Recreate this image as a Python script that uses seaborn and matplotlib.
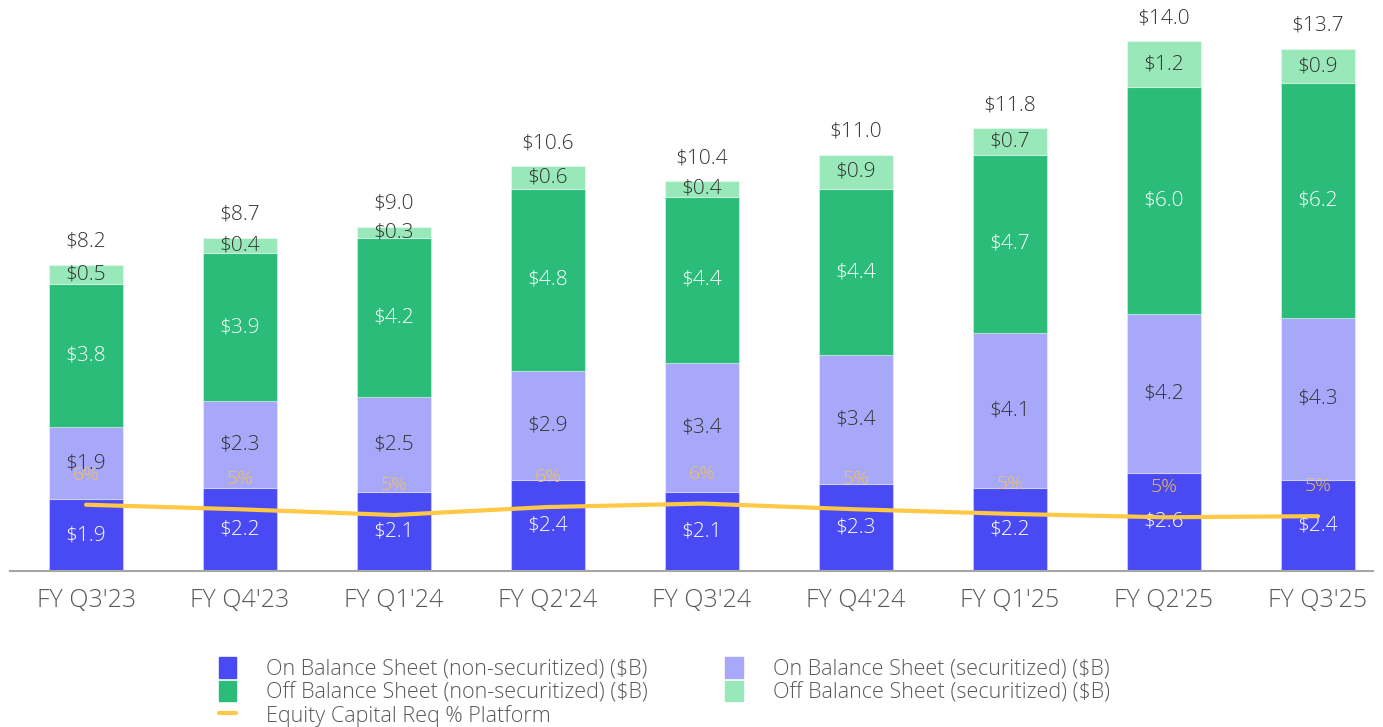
import matplotlib
matplotlib.use("Agg")
import matplotlib.pyplot as plt
import seaborn as sns
import pandas as pd
from matplotlib.patches import Patch
from matplotlib.lines import Line2D

# Values ($B) and equity capital requirement (%)
quarters = ["FY Q3'23", "FY Q4'23", "FY Q1'24", "FY Q2'24", "FY Q3'24",
            "FY Q4'24", "FY Q1'25", "FY Q2'25", "FY Q3'25"]
on_nonsec = [1.9, 2.2, 2.1, 2.4, 2.1, 2.3, 2.2, 2.6, 2.4]
on_sec = [1.9, 2.3, 2.5, 2.9, 3.4, 3.4, 4.1, 4.2, 4.3]
off_nonsec = [3.8, 3.9, 4.2, 4.8, 4.4, 4.4, 4.7, 6.0, 6.2]
off_sec = [0.5, 0.4, 0.3, 0.6, 0.4, 0.9, 0.7, 1.2, 0.9]
totals = [8.2, 8.7, 9.0, 10.6, 10.4, 11.0, 11.8, 14.0, 13.7]
equity_pct = [5.8, 5.4, 4.9, 5.6, 5.9, 5.4, 5.0, 4.7, 4.8]

series_names = ["On Balance Sheet (non-securitized) ($B)",
                "On Balance Sheet (securitized) ($B)",
                "Off Balance Sheet (non-securitized) ($B)",
                "Off Balance Sheet (securitized) ($B)"]
series_vals = [on_nonsec, on_sec, off_nonsec, off_sec]
colors = ["#4A4AF4", "#A8A8FA", "#2CBC7A", "#98E8BA"]
label_colors = ["white", "#333333", "white", "#333333"]
line_color = "#FFC845"

sns.set_theme(style="white")
plt.rcParams["font.family"] = ["Open Sans", "DejaVu Sans"]
plt.rcParams["font.weight"] = "light"

fig = plt.figure(figsize=(13.83, 7.27), dpi=100)
ax = fig.add_axes([10 / 1383, 0.2146, 1363 / 1383, 0.77])

# stacked segments, bottom to top
bottom = [0.0] * len(quarters)
for name, vals, col, lc in zip(series_names, series_vals, colors, label_colors):
    for i, (b, v) in enumerate(zip(bottom, vals)):
        ax.bar(i, v, bottom=b, width=0.48, color=col,
               edgecolor=(1, 1, 1, 0.35), linewidth=0.8, zorder=2)
        ax.text(i, b + v / 2, f"${v:.1f}", ha="center", va="center",
                color=lc, fontsize=15, zorder=4)
    bottom = [b + v for b, v in zip(bottom, vals)]

for i, t in enumerate(totals):
    ax.text(i, bottom[i] + 0.35, f"${t:.1f}", ha="center", va="bottom",
            color="#333333", fontsize=15)

ax.set_xlim(-0.494, 8.357)
ax.set_ylim(0, 14.8)
ax.set_xticks(range(len(quarters)))
ax.set_xticklabels(quarters, fontsize=18, color="#595959")
ax.tick_params(axis="x", length=0, pad=12)
ax.set_yticks([])
for s in ["top", "right", "left"]:
    ax.spines[s].set_visible(False)
ax.spines["bottom"].set_color("#A6A6A6")
ax.spines["bottom"].set_linewidth(1.5)

# equity capital line on a secondary axis
ax2 = ax.twinx()
line_df = pd.DataFrame({"x": range(len(quarters)), "pct": equity_pct})
sns.lineplot(data=line_df, x="x", y="pct", ax=ax2, color=line_color,
             linewidth=3, zorder=3)
ax2.set_ylim(0, 49)
ax2.set_yticks([])
ax2.set_ylabel("")
ax2.set_xlabel("")
for s in ["top", "right", "left", "bottom"]:
    ax2.spines[s].set_visible(False)
for i, p in enumerate(equity_pct):
    ax2.annotate(f"{p:.0f}%", (i, p), xytext=(0, 30),
                 textcoords="offset pixels", ha="center", va="center",
                 color="#F5C24E", fontsize=14)

handles = [Patch(color=colors[0]), Patch(color=colors[2]),
           Line2D([], [], color=line_color, linewidth=3),
           Patch(color=colors[1]), Patch(color=colors[3])]
labels = [series_names[0], series_names[2], "Equity Capital Req % Platform",
          series_names[1], series_names[3]]
fig.legend(handles, labels, ncol=2, loc="upper left",
           bbox_to_anchor=(0.152, 0.108), frameon=False, fontsize=15.5,
           labelcolor="#595959", handlelength=0.8, handleheight=1.1,
           handletextpad=1.4, columnspacing=3.6, labelspacing=0.05,
           borderaxespad=0)

fig.savefig("out.png", dpi=100)
